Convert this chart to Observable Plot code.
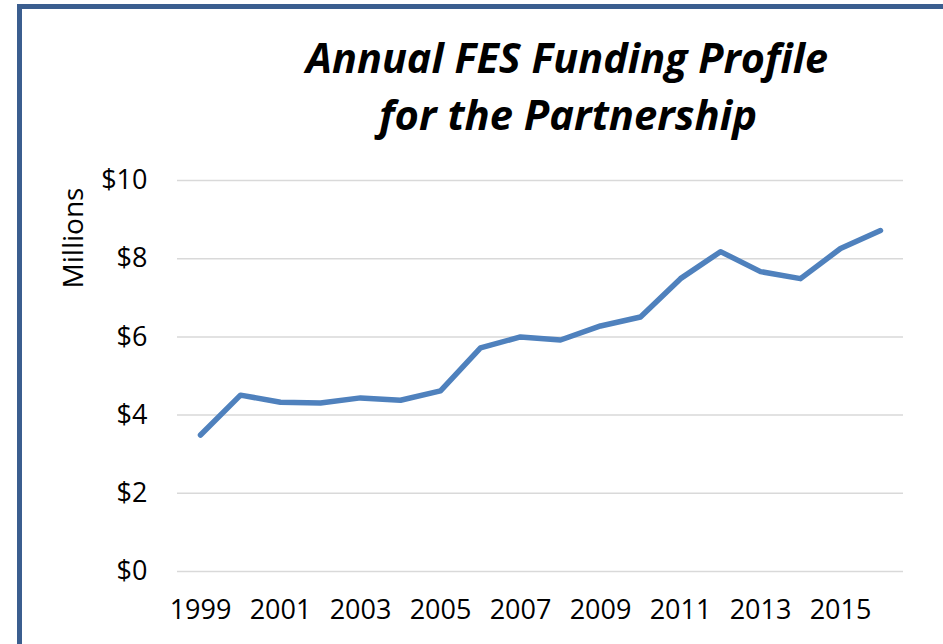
<!DOCTYPE html>
<html>
<head>
<meta charset="utf-8">
<script src="https://cdn.jsdelivr.net/npm/d3@7"></script>
<script src="https://cdn.jsdelivr.net/npm/@observablehq/plot@0.6"></script>
<style>
  html, body { margin: 0; padding: 0; background: #fff; }
  #wrap { position: relative; width: 943px; height: 644px; overflow: hidden; background: #fff; }
  #border { position: absolute; left: 17px; top: 4px; width: 940px; height: 720px; box-sizing: border-box; border: 5px solid #3b5e8f; }
  #chart { position: absolute; left: 0; top: 0; }
  #overlay { position: absolute; left: 0; top: 0; }
</style>
</head>
<body>
<div id="wrap">
  <div id="chart"></div>
  <svg id="overlay" width="943" height="644">
    <text x="567" y="73" text-anchor="middle" font-family="Open Sans" font-weight="bold" font-style="italic" font-size="41" textLength="522" lengthAdjust="spacingAndGlyphs">Annual FES Funding Profile</text>
    <text x="568" y="130" text-anchor="middle" font-family="Open Sans" font-weight="bold" font-style="italic" font-size="41" textLength="378" lengthAdjust="spacingAndGlyphs">for the Partnership</text>
    <text transform="translate(83,238) rotate(-90)" text-anchor="middle" font-family="Open Sans" font-size="28" fill="#000">Millions</text>
  </svg>
  <div id="border"></div>
</div>
<script>
const years = [1999, 2000, 2001, 2002, 2003, 2004, 2005, 2006, 2007, 2008, 2009, 2010, 2011, 2012, 2013, 2014, 2015, 2016];
const funding = [3.49, 4.51, 4.33, 4.31, 4.44, 4.38, 4.62, 5.72, 6.00, 5.92, 6.28, 6.51, 7.49, 8.18, 7.67, 7.49, 8.26, 8.72];
const yTicks = [0, 2, 4, 6, 8, 10];
const xTicks = [1999, 2001, 2003, 2005, 2007, 2009, 2011, 2013, 2015];

const data = years.map((year, i) => ({year, value: funding[i]}));

const chart = Plot.plot({
  width: 943,
  height: 644,
  marginLeft: 177,
  marginRight: 40,
  marginTop: 180,
  marginBottom: 73,
  style: { fontFamily: "Open Sans", fontSize: "27px", color: "#000", background: "transparent", overflow: "visible" },
  x: { type: "point", domain: years, padding: 0.5 },
  y: { domain: [0, 10] },
  marks: [
    Plot.ruleY(yTicks, { stroke: "#d9d9d9", strokeWidth: 1.5 }),
    Plot.axisY({ ticks: yTicks, tickSize: 0, tickPadding: 30, tickFormat: d => "$" + d, label: null, fontSize: 27 }),
    Plot.axisX({ ticks: xTicks, tickSize: 0, tickPadding: 28, label: null, fontSize: 27, tickFormat: d => String(d) }),
    Plot.line(data, { x: "year", y: "value", stroke: "#4f81bd", strokeWidth: 5.5, strokeLinejoin: "round", strokeLinecap: "round" })
  ]
});
document.getElementById("chart").appendChild(chart);
</script>
</body>
</html>
